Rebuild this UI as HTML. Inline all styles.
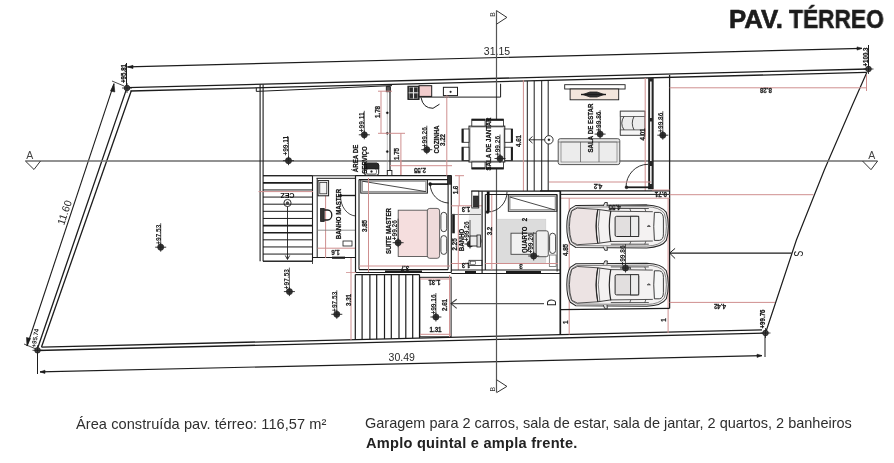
<!DOCTYPE html>
<html><head><meta charset="utf-8"><style>
html,body{margin:0;padding:0;background:#fff;width:894px;height:463px;overflow:hidden;font-family:"Liberation Sans",sans-serif}
#c{position:absolute;left:0;top:0;width:894px;height:463px;will-change:transform}
.t{position:absolute;white-space:nowrap;will-change:transform;color:#2e2e2e;font-family:"Liberation Sans",sans-serif;line-height:1}
</style></head><body>
<svg id="c" width="894" height="463" viewBox="0 0 894 463">
<line x1="127.5" y1="66.9" x2="862" y2="48.4" stroke="#1c1c1c" stroke-width="1.2" />
<polygon points="127.5,66.9 133,65.3 133,68.5" stroke="#1c1c1c" stroke-width="0.6" fill="#1c1c1c"/>
<polygon points="862,48.4 857,46.9 857,50.1" stroke="#1c1c1c" stroke-width="0.6" fill="#1c1c1c"/>
<line x1="126.5" y1="63" x2="126.5" y2="88" stroke="#1c1c1c" stroke-width="1.0" />
<line x1="868.5" y1="45" x2="868.5" y2="69" stroke="#1c1c1c" stroke-width="1.0" />
<text x="0" y="0" font-family="Liberation Sans" font-size="6.5" fill="#111" font-weight="bold" text-anchor="middle" dominant-baseline="central" transform="translate(123.3 73.5) rotate(-90) scale(0.95 1)" stroke="#111" stroke-width="0.2">+95.81</text>
<text x="0" y="0" font-family="Liberation Sans" font-size="6.5" fill="#111" font-weight="bold" text-anchor="middle" dominant-baseline="central" transform="translate(865.5 57) rotate(-90) scale(0.95 1)" stroke="#111" stroke-width="0.2">+100.3</text>
<text x="497" y="50.5" font-family="Liberation Sans" font-size="10.5" fill="#2a2a2a" font-weight="normal" text-anchor="middle" dominant-baseline="central" >31.15</text>
<line x1="127" y1="87.6" x2="868.5" y2="69" stroke="#1c1c1c" stroke-width="1.3" />
<line x1="130.5" y1="91" x2="866" y2="72.4" stroke="#1c1c1c" stroke-width="1.3" />
<line x1="127" y1="87.6" x2="37" y2="350" stroke="#1c1c1c" stroke-width="1.3" />
<line x1="131.3" y1="90.8" x2="41.5" y2="347" stroke="#1c1c1c" stroke-width="1.3" />
<line x1="37" y1="350.5" x2="765.5" y2="333.1" stroke="#1c1c1c" stroke-width="1.3" />
<line x1="41.5" y1="347.1" x2="762" y2="329.9" stroke="#1c1c1c" stroke-width="1.3" />
<polyline points="867,72 852.4,105 824.3,170 796.4,240 775.5,303 765.5,333" stroke="#1c1c1c" stroke-width="1.2" fill="none"/>
<line x1="40" y1="371.9" x2="762" y2="355.6" stroke="#1c1c1c" stroke-width="1.2" />
<polygon points="40,371.9 45,370.2 45,373.4" stroke="#1c1c1c" stroke-width="0.6" fill="#1c1c1c"/>
<polygon points="762,355.6 757,354.2 757,357.4" stroke="#1c1c1c" stroke-width="0.6" fill="#1c1c1c"/>
<line x1="37.5" y1="350" x2="37.5" y2="374" stroke="#1c1c1c" stroke-width="1.0" />
<line x1="765" y1="333" x2="765" y2="357" stroke="#1c1c1c" stroke-width="1.0" />
<text x="401.7" y="356.7" font-family="Liberation Sans" font-size="10.5" fill="#2a2a2a" font-weight="normal" text-anchor="middle" dominant-baseline="central" >30.49</text>
<text x="0" y="0" font-family="Liberation Sans" font-size="6.4" fill="#1a1a1a" font-weight="bold" text-anchor="middle" dominant-baseline="central" transform="translate(34.8 338) rotate(-80) scale(0.95 1)" >+95.74</text>
<text x="0" y="0" font-family="Liberation Sans" font-size="6.5" fill="#111" font-weight="bold" text-anchor="middle" dominant-baseline="central" transform="translate(762 319) rotate(-90) scale(0.95 1)" stroke="#111" stroke-width="0.2">+99.76</text>
<line x1="114" y1="83.7" x2="27" y2="346" stroke="#1c1c1c" stroke-width="1.1" />
<polygon points="114,83.7 110.5,91 114.8,92" stroke="#1c1c1c" stroke-width="0.6" fill="#1c1c1c"/>
<line x1="112" y1="81" x2="124" y2="86" stroke="#1c1c1c" stroke-width="0.8" />
<polygon points="27,346 30.5,338.5 26.5,337.5" stroke="#1c1c1c" stroke-width="0.6" fill="#1c1c1c"/>
<line x1="24" y1="344" x2="36" y2="349" stroke="#1c1c1c" stroke-width="0.8" />
<text x="64.2" y="212.5" font-family="Liberation Sans" font-size="10.5" fill="#2a2a2a" font-weight="normal" text-anchor="middle" dominant-baseline="central" transform="rotate(-71.5 64.2 212.5)" >11.60</text>
<circle cx="127" cy="88" r="2.8" stroke="#222" stroke-width="0.8" fill="#444"/>
<line x1="122" y1="88" x2="132" y2="88" stroke="#1c1c1c" stroke-width="0.8" />
<line x1="127" y1="83" x2="127" y2="93" stroke="#1c1c1c" stroke-width="0.8" />
<circle cx="868.5" cy="69" r="2.8" stroke="#222" stroke-width="0.8" fill="#444"/>
<line x1="863.5" y1="69" x2="873.5" y2="69" stroke="#1c1c1c" stroke-width="0.8" />
<line x1="868.5" y1="64" x2="868.5" y2="74" stroke="#1c1c1c" stroke-width="0.8" />
<circle cx="765.5" cy="333" r="2.8" stroke="#222" stroke-width="0.8" fill="#444"/>
<line x1="760.5" y1="333" x2="770.5" y2="333" stroke="#1c1c1c" stroke-width="0.8" />
<line x1="765.5" y1="328" x2="765.5" y2="338" stroke="#1c1c1c" stroke-width="0.8" />
<circle cx="37.5" cy="350.3" r="2.8" stroke="#222" stroke-width="0.8" fill="#444"/>
<line x1="32.5" y1="350.3" x2="42.5" y2="350.3" stroke="#1c1c1c" stroke-width="0.8" />
<line x1="37.5" y1="345.3" x2="37.5" y2="355.3" stroke="#1c1c1c" stroke-width="0.8" />
<line x1="25.4" y1="161" x2="877.6" y2="161" stroke="#6e6e6e" stroke-width="1.4" />
<polyline points="25.4,161 34,169.5 40.5,161" stroke="#333" stroke-width="1.0" fill="none"/>
<polyline points="862.5,161 871,169.7 877.6,161" stroke="#333" stroke-width="1.0" fill="none"/>
<text x="29.8" y="155" font-family="Liberation Sans" font-size="10.5" fill="#444" font-weight="normal" text-anchor="middle" dominant-baseline="central" >A</text>
<text x="871.8" y="155" font-family="Liberation Sans" font-size="10.5" fill="#444" font-weight="normal" text-anchor="middle" dominant-baseline="central" >A</text>
<line x1="496.5" y1="10.6" x2="496.5" y2="392.6" stroke="#555" stroke-width="1.2" />
<polyline points="496.5,10.6 506.9,17.4 496.5,24.2" stroke="#333" stroke-width="1.0" fill="none"/>
<polyline points="496.7,379.8 506.9,386.4 496.7,392.6" stroke="#333" stroke-width="1.0" fill="none"/>
<text x="0" y="0" font-family="Liberation Sans" font-size="8" fill="#333" font-weight="normal" text-anchor="middle" dominant-baseline="central" transform="translate(492.4 14.4) rotate(-90) scale(0.85 1)" >B</text>
<text x="0" y="0" font-family="Liberation Sans" font-size="8" fill="#333" font-weight="normal" text-anchor="middle" dominant-baseline="central" transform="translate(492.3 389.2) rotate(-90) scale(0.85 1)" >B</text>
<line x1="669.2" y1="253.1" x2="791.7" y2="253.1" stroke="#1c1c1c" stroke-width="1.1" />
<polyline points="675.1,248.4 669.6,253.1 675.1,258.5" stroke="#1c1c1c" stroke-width="1.0" fill="none"/>
<text x="0" y="0" font-family="Liberation Sans" font-size="12.5" fill="#222" font-weight="normal" text-anchor="middle" dominant-baseline="central" transform="translate(798 253.7) rotate(-90) scale(0.72 1)" >S</text>
<line x1="451" y1="303.6" x2="544" y2="303.6" stroke="#555" stroke-width="1.3" />
<polyline points="456.7,299.3 451,303.6 456.7,308.3" stroke="#444" stroke-width="1.1" fill="none"/>
<text x="0" y="0" font-family="Liberation Sans" font-size="12.2" fill="#222" font-weight="normal" text-anchor="middle" dominant-baseline="central" transform="translate(551.8 302.5) rotate(-90) scale(0.78 1)" >D</text>
<line x1="260.1" y1="84.5" x2="260.1" y2="261.2" stroke="#1c1c1c" stroke-width="1.1" />
<line x1="263.1" y1="84.5" x2="263.1" y2="261.2" stroke="#1c1c1c" stroke-width="1.1" />
<line x1="256.3" y1="91.4" x2="392" y2="85.6" stroke="#1c1c1c" stroke-width="1.0" />
<line x1="256.3" y1="88" x2="256.3" y2="91.4" stroke="#1c1c1c" stroke-width="1.0" />
<line x1="263" y1="175.7" x2="312.5" y2="175.7" stroke="#1c1c1c" stroke-width="1.1" />
<line x1="263" y1="261.2" x2="312.5" y2="261.2" stroke="#1c1c1c" stroke-width="1.1" />
<line x1="312.5" y1="175.7" x2="312.5" y2="261.2" stroke="#1c1c1c" stroke-width="1.1" />
<line x1="263" y1="175.7" x2="312.5" y2="175.7" stroke="#1c1c1c" stroke-width="1.0" />
<line x1="263" y1="182.825" x2="312.5" y2="182.825" stroke="#1c1c1c" stroke-width="1.6" />
<line x1="263" y1="189.95" x2="312.5" y2="189.95" stroke="#1c1c1c" stroke-width="1.0" />
<line x1="263" y1="197.075" x2="312.5" y2="197.075" stroke="#1c1c1c" stroke-width="1.0" />
<line x1="263" y1="204.2" x2="312.5" y2="204.2" stroke="#1c1c1c" stroke-width="1.0" />
<line x1="263" y1="211.325" x2="312.5" y2="211.325" stroke="#1c1c1c" stroke-width="1.0" />
<line x1="263" y1="218.45" x2="312.5" y2="218.45" stroke="#1c1c1c" stroke-width="1.0" />
<line x1="263" y1="225.575" x2="312.5" y2="225.575" stroke="#1c1c1c" stroke-width="1.6" />
<line x1="263" y1="232.7" x2="312.5" y2="232.7" stroke="#1c1c1c" stroke-width="1.6" />
<line x1="263" y1="239.825" x2="312.5" y2="239.825" stroke="#1c1c1c" stroke-width="1.0" />
<line x1="263" y1="246.95" x2="312.5" y2="246.95" stroke="#1c1c1c" stroke-width="1.0" />
<line x1="263" y1="254.075" x2="312.5" y2="254.075" stroke="#1c1c1c" stroke-width="1.0" />
<line x1="263" y1="261.2" x2="312.5" y2="261.2" stroke="#1c1c1c" stroke-width="1.0" />
<line x1="258.5" y1="191.6" x2="313" y2="191.6" stroke="#cf8f8f" stroke-width="1.0" />
<line x1="287.5" y1="206.5" x2="287.5" y2="259" stroke="#1c1c1c" stroke-width="0.9" />
<polyline points="285.3,255.5 287.5,259.5 289.7,255.5" stroke="#1c1c1c" stroke-width="0.9" fill="none"/>
<circle cx="287.5" cy="203" r="3.6" stroke="#1c1c1c" stroke-width="0.9" fill="none"/>
<circle cx="287.5" cy="203" r="1.2" stroke="#1c1c1c" stroke-width="0.6" fill="#555"/>
<text x="0" y="0" font-family="Liberation Sans" font-size="6.4" fill="#111" font-weight="bold" text-anchor="middle" dominant-baseline="central" transform="translate(287.5 195.3) rotate(180) scale(1.1 1)" >CEZ</text>
<line x1="312.5" y1="175.7" x2="356" y2="175.7" stroke="#1c1c1c" stroke-width="1.1" />
<line x1="316.5" y1="178.3" x2="356" y2="178.3" stroke="#1c1c1c" stroke-width="1.0" />
<line x1="317.2" y1="178.3" x2="317.2" y2="257.5" stroke="#1c1c1c" stroke-width="1.0" />
<line x1="312.5" y1="257.5" x2="356" y2="257.5" stroke="#1c1c1c" stroke-width="1.1" />
<line x1="332" y1="257.7" x2="345" y2="257.7" stroke="#1c1c1c" stroke-width="2.2" />
<line x1="325.6" y1="180" x2="325.6" y2="258" stroke="#cf8f8f" stroke-width="1.0" />
<line x1="317.5" y1="248.2" x2="356" y2="248.2" stroke="#cf8f8f" stroke-width="1.0" />
<text x="0" y="0" font-family="Liberation Sans" font-size="6.6" fill="#1e1e1e" font-weight="bold" text-anchor="middle" dominant-baseline="central" transform="translate(335.5 252.5) rotate(180) scale(0.95 1)" stroke="#1e1e1e" stroke-width="0.25">1.6</text>
<rect x="318" y="180.6" width="10.6" height="15.2" stroke="#1c1c1c" stroke-width="1.0" fill="#f4f4f4" rx="0"/>
<rect x="319.8" y="182.6" width="7" height="11.2" stroke="#1c1c1c" stroke-width="0.7" fill="none" rx="0"/>
<rect x="320.6" y="208.5" width="3.6" height="13" stroke="#1c1c1c" stroke-width="0.8" fill="#333" rx="0"/>
<path d="M324.2,210 L327.5,210 A4.3,5 0 0,1 327.5,220 L324.2,220" stroke="#1c1c1c" stroke-width="1.3" fill="none"/>
<line x1="317.4" y1="230.2" x2="355" y2="230.2" stroke="#777" stroke-width="0.8" />
<rect x="343" y="241" width="9" height="5" stroke="#1c1c1c" stroke-width="0.8" fill="none" rx="0"/>
<text x="0" y="0" font-family="Liberation Sans" font-size="6.5" fill="#111" font-weight="bold" text-anchor="middle" dominant-baseline="central" transform="translate(338.5 214) rotate(-90) scale(0.95 1)" stroke="#111" stroke-width="0.2">BANHO  MASTER</text>
<line x1="340.5" y1="195.5" x2="356" y2="195.5" stroke="#1c1c1c" stroke-width="1.4" />
<circle cx="340.5" cy="195.5" r="1.3" stroke="#1c1c1c" stroke-width="0.4" fill="#111"/>
<path d="M340.5,195.5 A16,20 0 0,0 356,216" stroke="#1c1c1c" stroke-width="0.8" fill="none"/>
<line x1="355.5" y1="175.7" x2="451.3" y2="175.7" stroke="#1c1c1c" stroke-width="1.2" />
<line x1="359" y1="179.6" x2="448.1" y2="179.6" stroke="#1c1c1c" stroke-width="1.1" />
<line x1="355.5" y1="175.7" x2="355.5" y2="272.5" stroke="#1c1c1c" stroke-width="1.2" />
<line x1="359" y1="179.6" x2="359" y2="269.6" stroke="#1c1c1c" stroke-width="1.1" />
<line x1="451.3" y1="175.7" x2="451.3" y2="272.5" stroke="#1c1c1c" stroke-width="1.2" />
<line x1="448.1" y1="184" x2="448.1" y2="269.6" stroke="#1c1c1c" stroke-width="1.1" />
<rect x="447.6" y="175.7" width="3.7" height="8.5" stroke="#1c1c1c" stroke-width="0.8" fill="#333" rx="0"/>
<line x1="355.5" y1="272.5" x2="451.3" y2="272.5" stroke="#1c1c1c" stroke-width="1.2" />
<line x1="359" y1="269.6" x2="448.1" y2="269.6" stroke="#1c1c1c" stroke-width="1.1" />
<line x1="385" y1="271.5" x2="422" y2="271.5" stroke="#1c1c1c" stroke-width="2.2" />
<rect x="360.8" y="179.7" width="66.6" height="13.4" stroke="#1c1c1c" stroke-width="1.0" fill="none" rx="0"/>
<rect x="362.3" y="181.2" width="63.6" height="10.4" stroke="#999" stroke-width="1.3" fill="none" rx="0"/>
<line x1="362.3" y1="181.2" x2="425.9" y2="191.6" stroke="#1c1c1c" stroke-width="0.8" />
<circle cx="430.2" cy="184.1" r="1.6" stroke="#1c1c1c" stroke-width="0.5" fill="#111"/>
<line x1="430.2" y1="184.1" x2="448" y2="184.1" stroke="#1c1c1c" stroke-width="1.7" />
<path d="M430.2,184.1 A19,19 0 0,0 448.5,203" stroke="#1c1c1c" stroke-width="0.9" fill="none"/>
<rect x="398.2" y="210.2" width="29.7" height="46.3" stroke="#555" stroke-width="0.9" fill="#f5dede" rx="0"/>
<rect x="427.3" y="208.4" width="12.3" height="49.9" stroke="#555" stroke-width="0.9" fill="#efdada" rx="2.5"/>
<rect x="440.9" y="212.3" width="5.8" height="19.4" stroke="#333" stroke-width="0.9" fill="#fafafa" rx="2.9"/>
<rect x="440.9" y="235.6" width="5.8" height="18.8" stroke="#333" stroke-width="0.9" fill="#fafafa" rx="2.9"/>
<line x1="368.5" y1="178" x2="368.5" y2="272" stroke="#cf8f8f" stroke-width="1.0" />
<line x1="359" y1="266" x2="450" y2="266" stroke="#cf8f8f" stroke-width="1.0" />
<text x="0" y="0" font-family="Liberation Sans" font-size="6.6" fill="#1e1e1e" font-weight="bold" text-anchor="middle" dominant-baseline="central" transform="translate(364.5 226) rotate(-90) scale(0.95 1)" stroke="#1e1e1e" stroke-width="0.25">3.85</text>
<text x="0" y="0" font-family="Liberation Sans" font-size="6.6" fill="#1e1e1e" font-weight="bold" text-anchor="middle" dominant-baseline="central" transform="translate(405 268.5) rotate(180) scale(0.95 1)" stroke="#1e1e1e" stroke-width="0.25">3.7</text>
<text x="0" y="0" font-family="Liberation Sans" font-size="6.5" fill="#111" font-weight="bold" text-anchor="middle" dominant-baseline="central" transform="translate(388.3 231) rotate(-90) scale(0.95 1)" stroke="#111" stroke-width="0.2">SUITE  MASTER</text>
<line x1="398.1" y1="242.7" x2="398.1" y2="218.7" stroke="#333" stroke-width="0.8" />
<circle cx="398.1" cy="242.7" r="3.1" stroke="#222" stroke-width="0.6" fill="#333"/>
<line x1="392.6" y1="242.7" x2="403.6" y2="242.7" stroke="#222" stroke-width="0.9" />
<line x1="398.1" y1="238.2" x2="398.1" y2="247.2" stroke="#222" stroke-width="0.9" />
<text x="0" y="0" font-family="Liberation Sans" font-size="6.9" fill="#1a1a1a" font-weight="bold" text-anchor="middle" dominant-baseline="central" transform="translate(394.20000000000005 230.2) rotate(-90) scale(0.95 1)" >+99.26</text>
<line x1="387.3" y1="87" x2="387.3" y2="175.7" stroke="#999" stroke-width="0.6" />
<line x1="390" y1="87" x2="390" y2="175.7" stroke="#1c1c1c" stroke-width="1.2" />
<rect x="386.3" y="86.6" width="4" height="5.1" stroke="#1c1c1c" stroke-width="0.9" fill="#555" rx="0"/>
<rect x="387.3" y="170.5" width="4.6" height="5" stroke="#1c1c1c" stroke-width="0.9" fill="#fff" rx="0"/>
<circle cx="387.3" cy="112.8" r="1.1" stroke="#1c1c1c" stroke-width="0.3" fill="#111"/>
<circle cx="387.3" cy="133.3" r="1.1" stroke="#1c1c1c" stroke-width="0.3" fill="#111"/>
<circle cx="387.3" cy="151.6" r="1.1" stroke="#1c1c1c" stroke-width="0.3" fill="#111"/>
<line x1="381" y1="91.2" x2="381" y2="133.3" stroke="#cf8f8f" stroke-width="1.0" />
<line x1="378" y1="91.2" x2="392" y2="91.2" stroke="#cf8f8f" stroke-width="1.0" />
<line x1="378" y1="133.3" x2="405" y2="133.3" stroke="#cf8f8f" stroke-width="1.0" />
<text x="0" y="0" font-family="Liberation Sans" font-size="6.6" fill="#1e1e1e" font-weight="bold" text-anchor="middle" dominant-baseline="central" transform="translate(377 112) rotate(-90) scale(0.95 1)" stroke="#1e1e1e" stroke-width="0.25">1.78</text>
<line x1="400.9" y1="133.3" x2="400.9" y2="175" stroke="#cf8f8f" stroke-width="1.0" />
<text x="0" y="0" font-family="Liberation Sans" font-size="6.6" fill="#1e1e1e" font-weight="bold" text-anchor="middle" dominant-baseline="central" transform="translate(396.3 154) rotate(-90) scale(0.95 1)" stroke="#1e1e1e" stroke-width="0.25">1.75</text>
<rect x="407.9" y="86.2" width="11.2" height="13.3" stroke="#1c1c1c" stroke-width="0.9" fill="#2e2e2e" rx="0"/>
<line x1="413.5" y1="87" x2="413.5" y2="98.7" stroke="#e8e8e8" stroke-width="1.1" />
<line x1="408.7" y1="92.8" x2="418.3" y2="92.8" stroke="#e8e8e8" stroke-width="1.1" />
<rect x="409.2" y="87.5" width="8.6" height="10.7" stroke="#bbb" stroke-width="0.5" fill="none" rx="0"/>
<rect x="419.1" y="85.7" width="12.6" height="10.7" stroke="#1c1c1c" stroke-width="1.0" fill="#f2cccc" rx="0"/>
<path d="M421,97.5 Q423,108.3 433,108.3 L439.5,104.2" stroke="#1c1c1c" stroke-width="1.0" fill="none"/>
<line x1="419.1" y1="97.1" x2="500.6" y2="97.1" stroke="#1c1c1c" stroke-width="1.0" />
<line x1="500.6" y1="83.8" x2="500.6" y2="97.1" stroke="#1c1c1c" stroke-width="1.0" />
<rect x="443.4" y="87.3" width="14.1" height="8.3" stroke="#1c1c1c" stroke-width="1.0" fill="#fff" rx="0"/>
<circle cx="450.6" cy="91.8" r="0.9" stroke="#1c1c1c" stroke-width="0.3" fill="#111"/>
<line x1="446.8" y1="97.7" x2="446.8" y2="175.7" stroke="#cf8f8f" stroke-width="1.0" />
<polyline points="444.5,97.7 446.8,95.5 449,97.7" stroke="#cf8f8f" stroke-width="0.8" fill="none"/>
<text x="0" y="0" font-family="Liberation Sans" font-size="6.6" fill="#1e1e1e" font-weight="bold" text-anchor="middle" dominant-baseline="central" transform="translate(442.3 140) rotate(-90) scale(0.95 1)" stroke="#1e1e1e" stroke-width="0.25">3.22</text>
<text x="0" y="0" font-family="Liberation Sans" font-size="6.5" fill="#111" font-weight="bold" text-anchor="middle" dominant-baseline="central" transform="translate(436.2 139.5) rotate(-90) scale(0.95 1)" stroke="#111" stroke-width="0.2">COZINHA</text>
<line x1="426.8" y1="149.7" x2="426.8" y2="125.69999999999999" stroke="#333" stroke-width="0.8" />
<circle cx="426.8" cy="149.7" r="3.1" stroke="#222" stroke-width="0.6" fill="#333"/>
<line x1="421.3" y1="149.7" x2="432.3" y2="149.7" stroke="#222" stroke-width="0.9" />
<line x1="426.8" y1="145.2" x2="426.8" y2="154.2" stroke="#222" stroke-width="0.9" />
<text x="0" y="0" font-family="Liberation Sans" font-size="6.9" fill="#1a1a1a" font-weight="bold" text-anchor="middle" dominant-baseline="central" transform="translate(424.1 137.2) rotate(-90) scale(0.95 1)" >+99.26</text>
<line x1="390" y1="165.7" x2="452" y2="165.7" stroke="#cf8f8f" stroke-width="1.0" />
<line x1="400.9" y1="160" x2="400.9" y2="175" stroke="#cf8f8f" stroke-width="1.0" />
<text x="0" y="0" font-family="Liberation Sans" font-size="6.6" fill="#1e1e1e" font-weight="bold" text-anchor="middle" dominant-baseline="central" transform="translate(420 170.2) rotate(180) scale(0.95 1)" stroke="#1e1e1e" stroke-width="0.25">2.55</text>
<rect x="364.4" y="163.2" width="14.3" height="12" stroke="#1c1c1c" stroke-width="1.0" fill="#fff" rx="2"/>
<path d="M364.4,169 L364.4,165.2 Q364.4,163.2 366.4,163.2 L376.7,163.2 Q378.7,163.2 378.7,165.2 L378.7,169 Z" stroke="#1c1c1c" stroke-width="0.8" fill="#2a2a2a"/>
<rect x="366.5" y="169" width="10" height="5" stroke="#1c1c1c" stroke-width="0.6" fill="#fff" rx="1.5"/>
<circle cx="371.5" cy="171.5" r="1.0" stroke="#1c1c1c" stroke-width="0.3" fill="#222"/>
<text x="0" y="0" font-family="Liberation Sans" font-size="6.5" fill="#111" font-weight="bold" text-anchor="middle" dominant-baseline="central" transform="translate(355.6 158.5) rotate(-90) scale(0.95 1)" stroke="#111" stroke-width="0.2">ÁREA  DE</text>
<text x="0" y="0" font-family="Liberation Sans" font-size="6.5" fill="#111" font-weight="bold" text-anchor="middle" dominant-baseline="central" transform="translate(364.7 160) rotate(-90) scale(0.95 1)" stroke="#111" stroke-width="0.2">SERVIÇO</text>
<line x1="288.5" y1="160.7" x2="288.5" y2="136.7" stroke="#333" stroke-width="0.8" />
<circle cx="288.5" cy="160.7" r="3.1" stroke="#222" stroke-width="0.6" fill="#333"/>
<line x1="283.0" y1="160.7" x2="294.0" y2="160.7" stroke="#222" stroke-width="0.9" />
<line x1="288.5" y1="156.2" x2="288.5" y2="165.2" stroke="#222" stroke-width="0.9" />
<text x="0" y="0" font-family="Liberation Sans" font-size="6.9" fill="#1a1a1a" font-weight="bold" text-anchor="middle" dominant-baseline="central" transform="translate(285.0 145.7) rotate(-90) scale(0.95 1)" >+99.11</text>
<line x1="364.3" y1="134.8" x2="364.3" y2="110.80000000000001" stroke="#333" stroke-width="0.8" />
<circle cx="364.3" cy="134.8" r="3.1" stroke="#222" stroke-width="0.6" fill="#333"/>
<line x1="358.8" y1="134.8" x2="369.8" y2="134.8" stroke="#222" stroke-width="0.9" />
<line x1="364.3" y1="130.3" x2="364.3" y2="139.3" stroke="#222" stroke-width="0.9" />
<text x="0" y="0" font-family="Liberation Sans" font-size="6.9" fill="#1a1a1a" font-weight="bold" text-anchor="middle" dominant-baseline="central" transform="translate(361.6 122.30000000000001) rotate(-90) scale(0.95 1)" >+99.11</text>
<rect x="469" y="126.1" width="35.8" height="35.9" stroke="#1c1c1c" stroke-width="1.0" fill="#fff" rx="0"/>
<rect x="470.6" y="127.7" width="32.6" height="32.7" stroke="#999" stroke-width="0.5" fill="none" rx="0"/>
<rect x="471.8" y="119.1" width="13.3" height="7" stroke="#1c1c1c" stroke-width="0.8" fill="#fff" rx="0"/>
<line x1="471.8" y1="119.89999999999999" x2="485.1" y2="119.89999999999999" stroke="#1c1c1c" stroke-width="1.9" />
<rect x="486.3" y="119.1" width="17.1" height="7" stroke="#1c1c1c" stroke-width="0.8" fill="#fff" rx="0"/>
<line x1="486.3" y1="119.89999999999999" x2="503.40000000000003" y2="119.89999999999999" stroke="#1c1c1c" stroke-width="1.9" />
<rect x="471.8" y="162" width="13.3" height="7" stroke="#1c1c1c" stroke-width="0.8" fill="#fff" rx="0"/>
<line x1="471.8" y1="168.2" x2="485.1" y2="168.2" stroke="#1c1c1c" stroke-width="1.9" />
<rect x="486.3" y="162" width="17.1" height="7" stroke="#1c1c1c" stroke-width="0.8" fill="#fff" rx="0"/>
<line x1="486.3" y1="168.2" x2="503.40000000000003" y2="168.2" stroke="#1c1c1c" stroke-width="1.9" />
<rect x="462" y="129" width="7" height="13.3" stroke="#1c1c1c" stroke-width="0.8" fill="#fff" rx="0"/>
<line x1="462.8" y1="129" x2="462.8" y2="142.3" stroke="#1c1c1c" stroke-width="1.9" />
<rect x="462" y="147.2" width="7" height="13.3" stroke="#1c1c1c" stroke-width="0.8" fill="#fff" rx="0"/>
<line x1="462.8" y1="147.2" x2="462.8" y2="160.5" stroke="#1c1c1c" stroke-width="1.9" />
<rect x="504.8" y="129" width="7.8" height="13.3" stroke="#1c1c1c" stroke-width="0.8" fill="#fff" rx="0"/>
<line x1="511.8" y1="129" x2="511.8" y2="142.3" stroke="#1c1c1c" stroke-width="1.9" />
<rect x="504.8" y="147.2" width="7.8" height="13.3" stroke="#1c1c1c" stroke-width="0.8" fill="#fff" rx="0"/>
<line x1="511.8" y1="147.2" x2="511.8" y2="160.5" stroke="#1c1c1c" stroke-width="1.9" />
<text x="0" y="0" font-family="Liberation Sans" font-size="6.5" fill="#111" font-weight="bold" text-anchor="middle" dominant-baseline="central" transform="translate(488.5 144) rotate(-90) scale(0.95 1)" stroke="#111" stroke-width="0.2">SALA  DE  JANTAR</text>
<line x1="500" y1="158.5" x2="500" y2="134.5" stroke="#333" stroke-width="0.8" />
<circle cx="500" cy="158.5" r="3.1" stroke="#222" stroke-width="0.6" fill="#333"/>
<line x1="494.5" y1="158.5" x2="505.5" y2="158.5" stroke="#222" stroke-width="0.9" />
<line x1="500" y1="154.0" x2="500" y2="163.0" stroke="#222" stroke-width="0.9" />
<text x="0" y="0" font-family="Liberation Sans" font-size="6.9" fill="#1a1a1a" font-weight="bold" text-anchor="middle" dominant-baseline="central" transform="translate(497.3 146.0) rotate(-90) scale(0.95 1)" >+99.26</text>
<line x1="523.4" y1="80" x2="523.4" y2="191" stroke="#cf8f8f" stroke-width="1.0" />
<text x="0" y="0" font-family="Liberation Sans" font-size="6.6" fill="#1e1e1e" font-weight="bold" text-anchor="middle" dominant-baseline="central" transform="translate(518.6 141) rotate(-90) scale(0.95 1)" stroke="#1e1e1e" stroke-width="0.25">4.61</text>
<line x1="527.3" y1="81.04032000000001" x2="527.3" y2="191" stroke="#1c1c1c" stroke-width="1.0" />
<line x1="534.2" y1="80.86713" x2="534.2" y2="191" stroke="#1c1c1c" stroke-width="1.0" />
<line x1="541.7" y1="80.67887999999999" x2="541.7" y2="191" stroke="#1c1c1c" stroke-width="1.0" />
<line x1="548.2" y1="80.51572999999999" x2="548.2" y2="191" stroke="#1c1c1c" stroke-width="1.0" />
<line x1="529" y1="139.8" x2="545" y2="139.8" stroke="#1c1c1c" stroke-width="0.9" />
<polyline points="532.5,136.5 528.8,139.8 532.5,143.1" stroke="#1c1c1c" stroke-width="0.9" fill="none"/>
<circle cx="548.9" cy="139.8" r="4.2" stroke="#1c1c1c" stroke-width="0.9" fill="#fff"/>
<circle cx="548.9" cy="139.8" r="1.1" stroke="#1c1c1c" stroke-width="0.3" fill="#222"/>
<rect x="564.7" y="84.7" width="60.4" height="4.3" stroke="#1c1c1c" stroke-width="0.9" fill="#fff" rx="0"/>
<rect x="570.1" y="89" width="48.6" height="10.8" stroke="#1c1c1c" stroke-width="0.9" fill="#f3e6dc" rx="0"/>
<path d="M583,94.5 L590,92 L597,92 L604,94.5 L597,97 L590,97 Z" stroke="#1c1c1c" stroke-width="0.8" fill="#333"/>
<line x1="581" y1="94.5" x2="606" y2="94.5" stroke="#1c1c1c" stroke-width="1.4" />
<rect x="558.2" y="138.7" width="61.6" height="25.9" stroke="#444" stroke-width="0.9" fill="#e8e8e8" rx="2"/>
<rect x="561" y="142" width="56" height="20" stroke="#666" stroke-width="0.6" fill="#ececec" rx="0"/>
<line x1="580.5" y1="142" x2="580.5" y2="162" stroke="#555" stroke-width="0.7" />
<line x1="599" y1="142" x2="599" y2="162" stroke="#555" stroke-width="0.7" />
<line x1="558.2" y1="142" x2="619.8" y2="142" stroke="#555" stroke-width="0.6" />
<rect x="620.3" y="111.2" width="24.6" height="24" stroke="#333" stroke-width="0.9" fill="#ececec" rx="0"/>
<rect x="620.3" y="111.2" width="24.6" height="5.3" stroke="#444" stroke-width="0.8" fill="#f6f6f6" rx="0"/>
<rect x="620.3" y="129.9" width="24.6" height="5.3" stroke="#444" stroke-width="0.8" fill="#f6f6f6" rx="0"/>
<path d="M624,116.5 Q619.5,123.2 624,129.9" stroke="#1c1c1c" stroke-width="0.8" fill="none"/>
<path d="M634,116.5 Q630.5,123.2 634,129.9" stroke="#1c1c1c" stroke-width="0.8" fill="none"/>
<text x="0" y="0" font-family="Liberation Sans" font-size="6.5" fill="#111" font-weight="bold" text-anchor="middle" dominant-baseline="central" transform="translate(590.2 128) rotate(-90) scale(0.95 1)" stroke="#111" stroke-width="0.2">SALA  DE  ESTAR</text>
<line x1="600.1" y1="134.1" x2="600.1" y2="110.1" stroke="#333" stroke-width="0.8" />
<circle cx="600.1" cy="134.1" r="3.1" stroke="#222" stroke-width="0.6" fill="#333"/>
<line x1="594.6" y1="134.1" x2="605.6" y2="134.1" stroke="#222" stroke-width="0.9" />
<line x1="600.1" y1="129.6" x2="600.1" y2="138.6" stroke="#222" stroke-width="0.9" />
<text x="0" y="0" font-family="Liberation Sans" font-size="6.9" fill="#1a1a1a" font-weight="bold" text-anchor="middle" dominant-baseline="central" transform="translate(598.3000000000001 121.6) rotate(-90) scale(0.95 1)" >+99.86</text>
<line x1="645.2" y1="78" x2="645.2" y2="191" stroke="#cf8f8f" stroke-width="1.0" />
<text x="0" y="0" font-family="Liberation Sans" font-size="6.6" fill="#1e1e1e" font-weight="bold" text-anchor="middle" dominant-baseline="central" transform="translate(642.3 134.5) rotate(-90) scale(0.95 1)" stroke="#1e1e1e" stroke-width="0.25">4.01</text>
<rect x="648.4" y="78.3" width="4.9" height="110.7" stroke="#1a1a1a" stroke-width="0.5" fill="#262626" rx="0"/>
<rect x="650.1" y="81.5" width="1.5" height="36.5" stroke="none" stroke-width="0" fill="#fff" rx="0"/>
<rect x="650.1" y="121.5" width="1.5" height="39.5" stroke="none" stroke-width="0" fill="#fff" rx="0"/>
<rect x="650.1" y="166" width="1.5" height="18" stroke="none" stroke-width="0" fill="#fff" rx="0"/>
<line x1="669.6" y1="75" x2="669.6" y2="308.4" stroke="#1c1c1c" stroke-width="1.3" />
<line x1="662.8" y1="135.2" x2="662.8" y2="111.19999999999999" stroke="#333" stroke-width="0.8" />
<circle cx="662.8" cy="135.2" r="3.1" stroke="#222" stroke-width="0.6" fill="#333"/>
<line x1="657.3" y1="135.2" x2="668.3" y2="135.2" stroke="#222" stroke-width="0.9" />
<line x1="662.8" y1="130.7" x2="662.8" y2="139.7" stroke="#222" stroke-width="0.9" />
<text x="0" y="0" font-family="Liberation Sans" font-size="6.9" fill="#1a1a1a" font-weight="bold" text-anchor="middle" dominant-baseline="central" transform="translate(660.0999999999999 122.69999999999999) rotate(-90) scale(0.95 1)" >+99.86</text>
<line x1="626" y1="187.3" x2="651" y2="187.3" stroke="#1c1c1c" stroke-width="1.8" />
<circle cx="626.5" cy="187.3" r="1.5" stroke="#1c1c1c" stroke-width="0.4" fill="#222"/>
<path d="M626,187.3 A22,23 0 0,1 648,164.3" stroke="#1c1c1c" stroke-width="0.9" fill="none"/>
<line x1="549" y1="182" x2="651" y2="182" stroke="#cf8f8f" stroke-width="1.0" />
<text x="0" y="0" font-family="Liberation Sans" font-size="6.6" fill="#1e1e1e" font-weight="bold" text-anchor="middle" dominant-baseline="central" transform="translate(598 186.3) rotate(180) scale(0.95 1)" stroke="#1e1e1e" stroke-width="0.25">4.2</text>
<line x1="540" y1="190.9" x2="669.6" y2="190.9" stroke="#1c1c1c" stroke-width="1.2" />
<line x1="560" y1="194.4" x2="669.6" y2="194.4" stroke="#1c1c1c" stroke-width="1.0" />
<line x1="652" y1="190" x2="669.6" y2="190" stroke="#cf8f8f" stroke-width="0.9" />
<line x1="560" y1="198.2" x2="669.6" y2="198.2" stroke="#cf8f8f" stroke-width="0.9" />
<line x1="669.6" y1="194.7" x2="813.5" y2="194.7" stroke="#cf8f8f" stroke-width="1.0" />
<text x="0" y="0" font-family="Liberation Sans" font-size="6.6" fill="#1e1e1e" font-weight="bold" text-anchor="middle" dominant-baseline="central" transform="translate(660.8 194.4) rotate(180) scale(0.95 1)" stroke="#1e1e1e" stroke-width="0.25">0.71</text>
<line x1="669.6" y1="87.8" x2="866.5" y2="87.8" stroke="#cf8f8f" stroke-width="1.0" />
<line x1="866.5" y1="75" x2="866.5" y2="91" stroke="#cf8f8f" stroke-width="1.0" />
<text x="0" y="0" font-family="Liberation Sans" font-size="6.6" fill="#1e1e1e" font-weight="bold" text-anchor="middle" dominant-baseline="central" transform="translate(766 91) rotate(180) scale(0.95 1)" stroke="#1e1e1e" stroke-width="0.25">8.28</text>
<line x1="669.6" y1="302.4" x2="775" y2="302.4" stroke="#cf8f8f" stroke-width="1.0" />
<text x="0" y="0" font-family="Liberation Sans" font-size="6.6" fill="#1e1e1e" font-weight="bold" text-anchor="middle" dominant-baseline="central" transform="translate(720 306.3) rotate(180) scale(0.95 1)" stroke="#1e1e1e" stroke-width="0.25">4.42</text>
<polygon points="470,209 481,209 481,241 465.5,241" stroke="none" stroke-width="0" fill="#ebebeb"/>
<line x1="459.2" y1="175.7" x2="459.2" y2="206" stroke="#cf8f8f" stroke-width="1.0" />
<line x1="455" y1="175.7" x2="464" y2="175.7" stroke="#cf8f8f" stroke-width="1.0" />
<text x="0" y="0" font-family="Liberation Sans" font-size="6.6" fill="#1e1e1e" font-weight="bold" text-anchor="middle" dominant-baseline="central" transform="translate(455.3 190) rotate(-90) scale(0.95 1)" stroke="#1e1e1e" stroke-width="0.25">1.6</text>
<line x1="451.3" y1="205.8" x2="482" y2="205.8" stroke="#cf8f8f" stroke-width="1.0" />
<text x="0" y="0" font-family="Liberation Sans" font-size="6.6" fill="#1e1e1e" font-weight="bold" text-anchor="middle" dominant-baseline="central" transform="translate(466 209.5) rotate(180) scale(0.95 1)" stroke="#1e1e1e" stroke-width="0.25">1.3</text>
<line x1="471.3" y1="191.2" x2="560" y2="191.2" stroke="#1c1c1c" stroke-width="1.2" />
<rect x="471.8" y="191.2" width="7" height="16.8" stroke="#1c1c1c" stroke-width="0.9" fill="#fff" rx="0"/>
<rect x="473.3" y="196" width="5" height="11" stroke="#1c1c1c" stroke-width="0.6" fill="#333" rx="0"/>
<line x1="453.5" y1="213.9" x2="453.5" y2="233.3" stroke="#1c1c1c" stroke-width="2.6" />
<line x1="451.3" y1="214.5" x2="481" y2="214.5" stroke="#555" stroke-width="0.8" />
<line x1="458.3" y1="206" x2="458.3" y2="270" stroke="#cf8f8f" stroke-width="1.0" />
<line x1="451.3" y1="263.5" x2="482" y2="263.5" stroke="#cf8f8f" stroke-width="1.0" />
<text x="0" y="0" font-family="Liberation Sans" font-size="6.6" fill="#1e1e1e" font-weight="bold" text-anchor="middle" dominant-baseline="central" transform="translate(454.9 244.4) rotate(-90) scale(0.95 1)" stroke="#1e1e1e" stroke-width="0.25">2.25</text>
<text x="0" y="0" font-family="Liberation Sans" font-size="6.6" fill="#1e1e1e" font-weight="bold" text-anchor="middle" dominant-baseline="central" transform="translate(466 266) rotate(180) scale(0.95 1)" stroke="#1e1e1e" stroke-width="0.25">1.3</text>
<text x="0" y="0" font-family="Liberation Sans" font-size="6.5" fill="#111" font-weight="bold" text-anchor="middle" dominant-baseline="central" transform="translate(461.5 240) rotate(-90) scale(0.95 1)" stroke="#111" stroke-width="0.2">BANHO</text>
<line x1="470" y1="244" x2="470" y2="220" stroke="#333" stroke-width="0.8" />
<circle cx="470" cy="244" r="3.1" stroke="#222" stroke-width="0.6" fill="#333"/>
<line x1="464.5" y1="244" x2="475.5" y2="244" stroke="#222" stroke-width="0.9" />
<line x1="470" y1="239.5" x2="470" y2="248.5" stroke="#222" stroke-width="0.9" />
<text x="0" y="0" font-family="Liberation Sans" font-size="6.9" fill="#1a1a1a" font-weight="bold" text-anchor="middle" dominant-baseline="central" transform="translate(466.1 231.5) rotate(-90) scale(0.95 1)" >+99.26</text>
<path d="M470,236 l7,0 a4,5 0 0,1 0,10 l-7,0 z" stroke="#1c1c1c" stroke-width="0.9" fill="#eee"/>
<rect x="477" y="235" width="3.5" height="12" stroke="#1c1c1c" stroke-width="0.8" fill="#ddd" rx="0"/>
<rect x="469" y="260.3" width="13" height="5.3" stroke="#1c1c1c" stroke-width="0.8" fill="#fff" rx="0"/>
<rect x="470.5" y="261.5" width="5" height="3" stroke="#1c1c1c" stroke-width="0.5" fill="none" rx="0"/>
<line x1="451.3" y1="270" x2="560" y2="270" stroke="#1c1c1c" stroke-width="1.1" />
<line x1="451.3" y1="273.5" x2="560" y2="273.5" stroke="#1c1c1c" stroke-width="1.2" />
<line x1="465" y1="272" x2="476" y2="272" stroke="#1c1c1c" stroke-width="2.0" />
<line x1="482.1" y1="191.2" x2="482.1" y2="273.5" stroke="#1c1c1c" stroke-width="1.2" />
<line x1="485.3" y1="194.5" x2="485.3" y2="270" stroke="#1c1c1c" stroke-width="1.1" />
<line x1="485.3" y1="194.5" x2="557" y2="194.5" stroke="#1c1c1c" stroke-width="1.1" />
<rect x="508.3" y="194.8" width="48.6" height="16.5" stroke="#1c1c1c" stroke-width="0.9" fill="none" rx="0"/>
<rect x="509.8" y="196.3" width="45.6" height="13.5" stroke="#999" stroke-width="1.4" fill="none" rx="0"/>
<line x1="509.8" y1="197" x2="555" y2="210" stroke="#1c1c1c" stroke-width="0.8" />
<line x1="557.1" y1="194.4" x2="557.1" y2="271.6" stroke="#1c1c1c" stroke-width="0.9" />
<line x1="488.2" y1="191.5" x2="488.2" y2="211.7" stroke="#111" stroke-width="2.8" />
<circle cx="487.5" cy="212" r="1.5" stroke="#1c1c1c" stroke-width="0.4" fill="#111"/>
<path d="M487.5,212 A19.5,20 0 0,0 507,192" stroke="#1c1c1c" stroke-width="0.9" fill="none"/>
<line x1="491.8" y1="195" x2="491.8" y2="270" stroke="#cf8f8f" stroke-width="1.0" />
<text x="0" y="0" font-family="Liberation Sans" font-size="6.6" fill="#1e1e1e" font-weight="bold" text-anchor="middle" dominant-baseline="central" transform="translate(489.6 231) rotate(-90) scale(0.95 1)" stroke="#1e1e1e" stroke-width="0.25">3.2</text>
<rect x="497.2" y="219.2" width="48.6" height="43.2" stroke="#ccc" stroke-width="0.6" fill="#dcdcdc" rx="0"/>
<rect x="511" y="233.2" width="25.2" height="21.1" stroke="#444" stroke-width="0.9" fill="#f2f2f2" rx="0"/>
<rect x="536.2" y="230.8" width="12.1" height="25.9" stroke="#444" stroke-width="0.9" fill="#efefef" rx="2"/>
<rect x="549.6" y="233.2" width="6" height="20.3" stroke="#333" stroke-width="0.9" fill="#fafafa" rx="3"/>
<rect x="549.3" y="255" width="6.8" height="11.5" stroke="#555" stroke-width="0.7" fill="none" rx="0"/>
<line x1="485.3" y1="263.5" x2="558" y2="263.5" stroke="#cf8f8f" stroke-width="1.0" />
<text x="0" y="0" font-family="Liberation Sans" font-size="6.6" fill="#1e1e1e" font-weight="bold" text-anchor="middle" dominant-baseline="central" transform="translate(521 266.3) rotate(180) scale(0.95 1)" stroke="#1e1e1e" stroke-width="0.25">3</text>
<line x1="506" y1="272" x2="541" y2="272" stroke="#1c1c1c" stroke-width="2.0" />
<text x="0" y="0" font-family="Liberation Sans" font-size="6.5" fill="#111" font-weight="bold" text-anchor="middle" dominant-baseline="central" transform="translate(524 235.5) rotate(-90) scale(0.95 1)" stroke="#111" stroke-width="0.2">QUARTO&#160;&#160;&#160;2</text>
<line x1="533.7" y1="256" x2="533.7" y2="232" stroke="#333" stroke-width="0.8" />
<circle cx="533.7" cy="256" r="3.1" stroke="#222" stroke-width="0.6" fill="#333"/>
<line x1="528.2" y1="256" x2="539.2" y2="256" stroke="#222" stroke-width="0.9" />
<line x1="533.7" y1="251.5" x2="533.7" y2="260.5" stroke="#222" stroke-width="0.9" />
<text x="0" y="0" font-family="Liberation Sans" font-size="6.9" fill="#1a1a1a" font-weight="bold" text-anchor="middle" dominant-baseline="central" transform="translate(530.5 243.5) rotate(-90) scale(0.95 1)" >+99.26</text>
<line x1="560.3" y1="190.9" x2="560.3" y2="335" stroke="#1c1c1c" stroke-width="1.7" />
<line x1="569.2" y1="198" x2="569.2" y2="334.6" stroke="#cf8f8f" stroke-width="1.0" />
<line x1="668.1" y1="198" x2="668.1" y2="333" stroke="#cf8f8f" stroke-width="1.0" />
<text x="0" y="0" font-family="Liberation Sans" font-size="6.6" fill="#1e1e1e" font-weight="bold" text-anchor="middle" dominant-baseline="central" transform="translate(565 250) rotate(-90) scale(0.95 1)" stroke="#1e1e1e" stroke-width="0.25">4.85</text>
<line x1="561" y1="309.6" x2="669.6" y2="308.4" stroke="#1c1c1c" stroke-width="1.2" />
<text x="0" y="0" font-family="Liberation Sans" font-size="6.6" fill="#1e1e1e" font-weight="bold" text-anchor="middle" dominant-baseline="central" transform="translate(565.7 322.3) rotate(-90) scale(0.95 1)" stroke="#1e1e1e" stroke-width="0.25">1</text>
<text x="0" y="0" font-family="Liberation Sans" font-size="6.6" fill="#1e1e1e" font-weight="bold" text-anchor="middle" dominant-baseline="central" transform="translate(663.5 320) rotate(-90) scale(0.95 1)" stroke="#1e1e1e" stroke-width="0.25">1</text>
<defs>
<g id="car" stroke="#2a2a2a" stroke-width="1.05" fill="none">
 <path d="M9,0.5 L80,0 Q95,0.5 99.5,7.5 Q101.5,13.5 101.5,21.5 Q101.5,29.5 99.5,35.5 Q95,42.5 80,43 L9,42.5 L3.5,39 Q0,33 0,21.5 Q0,10 3.5,4 Z" fill="#f4f2f2"/>
 <path d="M10,2.3 L80,1.8 Q93,2.3 97.5,8.5 Q99.6,14 99.6,21.5 Q99.6,29 97.5,34.5 Q93,40.8 80,41.2 L10,40.7 L5,37.5 Q1.9,32 1.9,21.5 Q1.9,11 5,5.5 Z" stroke-width="0.7" stroke="#555"/>
 <path d="M5,6 L10.5,3.2 L31,4.5 Q27.7,21.5 31,38.5 L10.5,39.8 L5,37 Q2.6,30 2.6,21.5 Q2.6,13 5,6 Z" fill="#ece3e3" stroke-width="0.8"/>
 <path d="M31,4.5 Q27.7,21.5 31,38.5" stroke-width="1.2"/>
 <path d="M33,5 Q30,21.5 33,38" stroke-width="0.6"/>
 <path d="M44,6 Q41,21.5 44,37" stroke-width="1.2"/>
 <path d="M31,4.5 L44,6.3 M31,38.5 L44,36.6" stroke-width="0.9"/>
 <path d="M44,3.6 L82,3.6 M44,6.3 L86,6.8 M44,36.6 L86,36.1 M44,39.3 L82,39.3" stroke-width="0.8"/>
 <path d="M63,3.6 L64,6.3 M78,3.6 L79,6.5 M63,39.3 L64,36.6 M78,39.3 L79,36.4" stroke-width="0.7"/>
 <rect x="48.3" y="11.4" width="23.6" height="20.2" rx="1.5" fill="#e2dfdf" stroke-width="1.0"/>
 <rect x="63.8" y="11.4" width="8.1" height="20.2" fill="#ececec" stroke-width="0.9"/>
 <path d="M87.6,7.5 L92.5,7.5 Q96.6,8 96.6,14 L96.6,29 Q96.6,35 92.5,35.5 L87.6,35.5 Q86.3,21.5 87.6,7.5 Z" fill="#f7f7f7" stroke-width="0.9"/>
 <path d="M36.5,1.2 L38,-2.4 L40.6,-2.4 L40.2,1.4 M36.5,41.8 L38,45.4 L40.6,45.4 L40.2,41.6" fill="#ddd" stroke-width="0.9"/>
 <path d="M80.5,21.5 q1.5,-2 3,0 m-3,0 l3,0" stroke-width="0.8"/>
</g></defs>
<use href="#car" x="566.8" y="204.9"/>
<use href="#car" x="566.8" y="263.3"/>
<text x="0" y="0" font-family="Liberation Sans" font-size="6.6" fill="#1e1e1e" font-weight="bold" text-anchor="middle" dominant-baseline="central" transform="translate(614.6 207.3) rotate(180) scale(0.95 1)" stroke="#1e1e1e" stroke-width="0.25">4.55</text>
<line x1="625.5" y1="268" x2="625.5" y2="244" stroke="#333" stroke-width="0.8" />
<circle cx="625.5" cy="268" r="3.1" stroke="#222" stroke-width="0.6" fill="#333"/>
<line x1="620.0" y1="268" x2="631.0" y2="268" stroke="#222" stroke-width="0.9" />
<line x1="625.5" y1="263.5" x2="625.5" y2="272.5" stroke="#222" stroke-width="0.9" />
<text x="0" y="0" font-family="Liberation Sans" font-size="6.9" fill="#1a1a1a" font-weight="bold" text-anchor="middle" dominant-baseline="central" transform="translate(622.8 255.5) rotate(-90) scale(0.95 1)" >+99.86</text>
<line x1="355.3" y1="274.6" x2="419.5" y2="274.6" stroke="#1c1c1c" stroke-width="1.2" />
<line x1="355.3" y1="274.6" x2="355.3" y2="339.644112" stroke="#1c1c1c" stroke-width="1.2" />
<line x1="362.1" y1="274.6" x2="362.1" y2="339.482544" stroke="#1c1c1c" stroke-width="1.2" />
<line x1="369.9" y1="274.6" x2="369.9" y2="339.29721600000005" stroke="#1c1c1c" stroke-width="1.2" />
<line x1="376.7" y1="274.6" x2="376.7" y2="339.135648" stroke="#1c1c1c" stroke-width="1.2" />
<line x1="384.5" y1="274.6" x2="384.5" y2="338.95032000000003" stroke="#1c1c1c" stroke-width="1.2" />
<line x1="391.3" y1="274.6" x2="391.3" y2="338.78875200000004" stroke="#1c1c1c" stroke-width="1.2" />
<line x1="399" y1="274.6" x2="399" y2="338.60580000000004" stroke="#1c1c1c" stroke-width="1.2" />
<line x1="405.8" y1="274.6" x2="405.8" y2="338.444232" stroke="#1c1c1c" stroke-width="1.2" />
<line x1="412.7" y1="274.6" x2="412.7" y2="338.28028800000004" stroke="#1c1c1c" stroke-width="1.2" />
<line x1="419.5" y1="274.6" x2="419.5" y2="338.11872" stroke="#1c1c1c" stroke-width="1.2" />
<rect x="419.8" y="277.3" width="31.3" height="59.5" stroke="#1c1c1c" stroke-width="1.0" fill="none" rx="0"/>
<line x1="420" y1="279" x2="451" y2="279" stroke="#cf8f8f" stroke-width="1.0" />
<line x1="420" y1="334.3" x2="451" y2="334.3" stroke="#cf8f8f" stroke-width="1.0" />
<line x1="449.6" y1="275" x2="449.6" y2="337" stroke="#cf8f8f" stroke-width="1.0" />
<text x="0" y="0" font-family="Liberation Sans" font-size="6.6" fill="#1e1e1e" font-weight="bold" text-anchor="middle" dominant-baseline="central" transform="translate(434.5 282.8) rotate(180) scale(0.95 1)" stroke="#1e1e1e" stroke-width="0.25">1.31</text>
<text x="0" y="0" font-family="Liberation Sans" font-size="6.6" fill="#1e1e1e" font-weight="bold" text-anchor="middle" dominant-baseline="central" transform="translate(435.5 329.6) rotate(0) scale(0.95 1)" stroke="#1e1e1e" stroke-width="0.25">1.31</text>
<text x="0" y="0" font-family="Liberation Sans" font-size="6.6" fill="#1e1e1e" font-weight="bold" text-anchor="middle" dominant-baseline="central" transform="translate(444 305) rotate(-90) scale(0.95 1)" stroke="#1e1e1e" stroke-width="0.25">2.61</text>
<line x1="435.9" y1="317" x2="435.9" y2="293" stroke="#333" stroke-width="0.8" />
<circle cx="435.9" cy="317" r="3.1" stroke="#222" stroke-width="0.6" fill="#333"/>
<line x1="430.4" y1="317" x2="441.4" y2="317" stroke="#222" stroke-width="0.9" />
<line x1="435.9" y1="312.5" x2="435.9" y2="321.5" stroke="#222" stroke-width="0.9" />
<text x="0" y="0" font-family="Liberation Sans" font-size="6.9" fill="#1a1a1a" font-weight="bold" text-anchor="middle" dominant-baseline="central" transform="translate(433.2 304.5) rotate(-90) scale(0.95 1)" >+99.16</text>
<line x1="351" y1="258" x2="351" y2="340" stroke="#cf8f8f" stroke-width="1.0" />
<line x1="346" y1="272.5" x2="356" y2="272.5" stroke="#cf8f8f" stroke-width="0.8" />
<text x="0" y="0" font-family="Liberation Sans" font-size="6.6" fill="#1e1e1e" font-weight="bold" text-anchor="middle" dominant-baseline="central" transform="translate(348.5 300) rotate(-90) scale(0.95 1)" stroke="#1e1e1e" stroke-width="0.25">3.31</text>
<line x1="336.8" y1="314.3" x2="336.8" y2="290.3" stroke="#333" stroke-width="0.8" />
<circle cx="336.8" cy="314.3" r="3.1" stroke="#222" stroke-width="0.6" fill="#333"/>
<line x1="331.3" y1="314.3" x2="342.3" y2="314.3" stroke="#222" stroke-width="0.9" />
<line x1="336.8" y1="309.8" x2="336.8" y2="318.8" stroke="#222" stroke-width="0.9" />
<text x="0" y="0" font-family="Liberation Sans" font-size="6.9" fill="#1a1a1a" font-weight="bold" text-anchor="middle" dominant-baseline="central" transform="translate(334.1 301.8) rotate(-90) scale(0.95 1)" >+97.53</text>
<line x1="289.4" y1="291.6" x2="289.4" y2="267.6" stroke="#333" stroke-width="0.8" />
<circle cx="289.4" cy="291.6" r="3.1" stroke="#222" stroke-width="0.6" fill="#333"/>
<line x1="283.9" y1="291.6" x2="294.9" y2="291.6" stroke="#222" stroke-width="0.9" />
<line x1="289.4" y1="287.1" x2="289.4" y2="296.1" stroke="#222" stroke-width="0.9" />
<text x="0" y="0" font-family="Liberation Sans" font-size="6.9" fill="#1a1a1a" font-weight="bold" text-anchor="middle" dominant-baseline="central" transform="translate(286.7 279.1) rotate(-90) scale(0.95 1)" >+97.53</text>
<line x1="160.7" y1="247.2" x2="160.7" y2="223.2" stroke="#333" stroke-width="0.8" />
<circle cx="160.7" cy="247.2" r="3.1" stroke="#222" stroke-width="0.6" fill="#333"/>
<line x1="155.2" y1="247.2" x2="166.2" y2="247.2" stroke="#222" stroke-width="0.9" />
<line x1="160.7" y1="242.7" x2="160.7" y2="251.7" stroke="#222" stroke-width="0.9" />
<text x="0" y="0" font-family="Liberation Sans" font-size="6.9" fill="#1a1a1a" font-weight="bold" text-anchor="middle" dominant-baseline="central" transform="translate(158.0 234.7) rotate(-90) scale(0.95 1)" >+97.53</text>
<line x1="312.5" y1="261.2" x2="312.5" y2="264" stroke="#1c1c1c" stroke-width="0.8" />
</svg>
<div class="t" style="left:729px;top:7px;font-size:25.3px;font-weight:bold;color:#1c1c1c;-webkit-text-stroke:0.6px #1c1c1c;transform-origin:0 0;transform:scaleX(1.02)">PAV.</div>
<div class="t" style="left:789px;top:7px;font-size:25.3px;font-weight:bold;color:#1c1c1c;-webkit-text-stroke:0.6px #1c1c1c;transform-origin:0 0;transform:scaleX(0.9)">TÉRREO</div>
<div class="t" style="left:76px;top:416.5px;font-size:14.6px;letter-spacing:0.05px">Área construída pav. térreo: 116,57 m²</div>
<div class="t" style="left:365px;top:416px;font-size:14.5px">Garagem para 2 carros, sala de estar, sala de jantar, 2 quartos, 2 banheiros</div>
<div class="t" style="left:365.5px;top:435.5px;font-size:14.6px;letter-spacing:0.25px;font-weight:bold;color:#222">Amplo quintal e ampla frente.</div>

</body></html>
